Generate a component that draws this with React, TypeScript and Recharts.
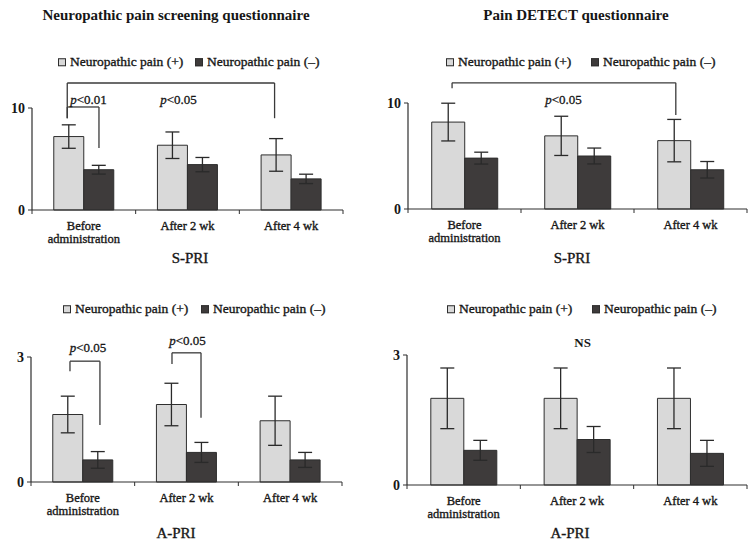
import React from 'react';
import { BarChart, Bar, XAxis, YAxis, ErrorBar, ReferenceLine, ReferenceDot } from 'recharts';

const FONT = "'Liberation Serif', 'DejaVu Serif', serif";
const LIGHT = '#d9d9d9';
const DARK = '#3e3b3b';
const STROKE = '#2e2e2e';
const INK = '#161616';

const categories = ['Before administration', 'After 2 wk', 'After 4 wk'];
const seriesNames = ['Neuropathic pain (+)', 'Neuropathic pain (\u2013)'];

// S-PRI, Neuropathic pain screening questionnaire
const npsqSpriPos = [7.2, 6.35, 5.4];
const npsqSpriPosErr = [1.15, 1.3, 1.6];
const npsqSpriNeg = [3.95, 4.45, 3.05];
const npsqSpriNegErr = [0.43, 0.7, 0.46];

// S-PRI, Pain DETECT questionnaire
const pdSpriPos = [8.2, 6.9, 6.45];
const pdSpriPosErr = [1.78, 1.85, 2.0];
const pdSpriNeg = [4.8, 5.0, 3.7];
const pdSpriNegErr = [0.56, 0.75, 0.78];

// A-PRI, Neuropathic pain screening questionnaire
const npsqApriPos = [1.62, 1.86, 1.47];
const npsqApriPosErr = [0.44, 0.51, 0.59];
const npsqApriNeg = [0.53, 0.71, 0.53];
const npsqApriNegErr = [0.2, 0.24, 0.18];

// A-PRI, Pain DETECT questionnaire
const pdApriPos = [2.0, 2.0, 2.0];
const pdApriPosErr = [0.7, 0.7, 0.7];
const pdApriNeg = [0.8, 1.05, 0.73];
const pdApriNegErr = [0.23, 0.3, 0.3];

const sTicks = [0, 10];
const aTicks = [0, 3];

// significance brackets: x in category units (0..3), y in data units
type Bracket = { x1: number; x2: number; yTop: number; yLeft: number; yRight: number };
type Ann = { x: number; y: number; text: string };

const npsqSpriBrackets: Bracket[] = [
  { x1: 0.34, x2: 2.34, yTop: 12.45, yLeft: 9.0, yRight: 9.0 },
  { x1: 0.34, x2: 0.646, yTop: 10.1, yLeft: 9.0, yRight: 6.08 },
];
const npsqSpriLabels: Ann[] = [
  { x: 0.545, y: 10.44, text: 'p<0.01' },
  { x: 1.413, y: 10.44, text: 'p<0.05' },
];
const pdSpriBrackets: Bracket[] = [{ x1: 0.39, x2: 2.37, yTop: 11.9, yLeft: 11.4, yRight: 8.87 }];
const pdSpriLabels: Ann[] = [{ x: 1.376, y: 9.86, text: 'p<0.05' }];
const npsqApriBrackets: Bracket[] = [
  { x1: 0.376, x2: 0.665, yTop: 2.9, yLeft: 2.66, yRight: 1.37 },
  { x1: 1.36, x2: 1.64, yTop: 3.1, yLeft: 2.83, yRight: 1.54 },
];
const npsqApriLabels: Ann[] = [
  { x: 0.55, y: 3.13, text: 'p<0.05' },
  { x: 1.51, y: 3.28, text: 'p<0.05' },
];
const pdApriBrackets: Bracket[] = [];
const pdApriLabels: Ann[] = [{ x: 1.55, y: 3.18, text: 'NS' }];

function CatTick(props: any) {
  const { x, y, payload, index } = props;
  const value = String(payload.value);
  const lines = value.length > 12 ? value.split(' ') : [value];
  const half = payload.offset || 0;
  const axisY = y - 4;
  return (
    <g>
      {half ? <line x1={x + half} x2={x + half} y1={axisY} y2={axisY + 4} stroke={STROKE} strokeWidth={1} /> : null}
      {half && index === 0 ? <line x1={x - half} x2={x - half} y1={axisY} y2={axisY + 4} stroke={STROKE} strokeWidth={1} /> : null}
      <text x={x} y={axisY + 20} textAnchor="middle" fontFamily={FONT} fontSize={12.5} fill={INK} stroke={INK} strokeWidth={0.35}>
        {lines.map((l, i) => (
          <tspan key={i} x={x} dy={i === 0 ? 0 : 13}>
            {l}
          </tspan>
        ))}
      </text>
    </g>
  );
}

function annShape(text: string) {
  return (props: any) => {
    const { cx, cy } = props;
    const isP = text.startsWith('p');
    return (
      <text
        x={cx}
        y={cy}
        textAnchor="middle"
        fontFamily={FONT}
        fontSize={13}
        fill={INK}
        stroke={INK}
        strokeWidth={isP ? 0.3 : 0}
        fontWeight={isP ? 'normal' : 'bold'}
      >
        {isP ? (
          <>
            <tspan fontStyle="italic">p</tspan>
            <tspan>{text.slice(1)}</tspan>
          </>
        ) : (
          text
        )}
      </text>
    );
  };
}

type PanelProps = {
  left: number;
  top: number;
  width: number;
  height: number;
  margin: { top: number; right: number; bottom: number; left: number };
  pos: number[];
  posErr: number[];
  neg: number[];
  negErr: number[];
  yMax: number;
  yTicks: number[];
  brackets: Bracket[];
  labels: Ann[];
};

function Panel(p: PanelProps) {
  const data = categories.map((c, i) => ({
    cat: c,
    i,
    pos: p.pos[i],
    posErr: p.posErr[i],
    neg: p.neg[i],
    negErr: p.negErr[i],
  }));
  const lineProps = { xAxisId: 'n', stroke: '#3a3a3a', strokeWidth: 1.3, ifOverflow: 'visible' as const };
  return (
    <div style={{ position: 'absolute', left: p.left, top: p.top }}>
      <BarChart width={p.width} height={p.height} data={data} margin={p.margin} barCategoryGap="21%" barGap={0}>
        <XAxis
          dataKey="cat"
          tickLine={false}
          axisLine={{ stroke: STROKE, strokeWidth: 1.2 }}
          height={45}
          interval={0}
          tickSize={4}
          tickMargin={0}
          tick={<CatTick />}
        />
        <XAxis xAxisId="n" dataKey="i" type="number" scale="linear" domain={[0, 3]} allowDataOverflow hide />
        <YAxis
          domain={[0, p.yMax]}
          ticks={p.yTicks}
          interval={0}
          width={30}
          tickSize={4}
          tickMargin={3}
          axisLine={{ stroke: STROKE, strokeWidth: 1.2 }}
          tickLine={{ stroke: STROKE }}
          tick={{ fontFamily: FONT, fontSize: 14, fontWeight: 'bold', fill: INK }}
        />
        <Bar dataKey="pos" fill={LIGHT} stroke={STROKE} strokeWidth={1} isAnimationActive={false}>
          <ErrorBar dataKey="posErr" width={7} stroke="#2a2a2a" strokeWidth={1.3} />
        </Bar>
        <Bar dataKey="neg" fill={DARK} stroke={STROKE} strokeWidth={1} isAnimationActive={false}>
          <ErrorBar dataKey="negErr" width={7} stroke="#2a2a2a" strokeWidth={1.3} />
        </Bar>
        {p.brackets.map((b, i) => (
          <ReferenceLine key={'l' + i} {...lineProps} segment={[{ x: b.x1, y: b.yLeft }, { x: b.x1, y: b.yTop }]} />
        ))}
        {p.brackets.map((b, i) => (
          <ReferenceLine key={'t' + i} {...lineProps} segment={[{ x: b.x1, y: b.yTop }, { x: b.x2, y: b.yTop }]} />
        ))}
        {p.brackets.map((b, i) => (
          <ReferenceLine key={'r' + i} {...lineProps} segment={[{ x: b.x2, y: b.yTop }, { x: b.x2, y: b.yRight }]} />
        ))}
        {p.labels.map((a, i) => (
          <ReferenceDot key={'a' + i} xAxisId="n" x={a.x} y={a.y} r={1} ifOverflow="visible" shape={annShape(a.text)} />
        ))}
      </BarChart>
    </div>
  );
}

function Text({ x, y, children, size, bold }: any) {
  return (
    <div
      style={{
        position: 'absolute',
        left: x,
        top: y,
        transform: 'translate(-50%, -50%)',
        whiteSpace: 'nowrap',
        fontFamily: FONT,
        fontSize: size,
        fontWeight: bold ? 'bold' : 'normal',
        color: INK,
        lineHeight: 1,
        WebkitTextStroke: bold ? undefined : '0.35px ' + INK,
      }}
    >
      {children}
    </div>
  );
}

function LegendItem({ x, y, color, label }: any) {
  return (
    <div
      style={{
        position: 'absolute',
        left: x,
        top: y,
        transform: 'translateY(-50%)',
        display: 'flex',
        alignItems: 'center',
        whiteSpace: 'nowrap',
        fontFamily: FONT,
        fontSize: 13.5,
        color: INK,
        lineHeight: 1,
        WebkitTextStroke: '0.35px ' + INK,
      }}
    >
      <span style={{ display: 'inline-block', width: 6, height: 6, background: color, border: `1px solid ${STROKE}`, marginRight: 4 }} />
      <span>{label}</span>
    </div>
  );
}

function Legend2({ x1, x2, y }: any) {
  return (
    <>
      <LegendItem x={x1} y={y} color={LIGHT} label={seriesNames[0]} />
      <LegendItem x={x2} y={y} color={DARK} label={seriesNames[1]} />
    </>
  );
}

export default function App() {
  return (
    <div style={{ position: 'absolute', left: 0, top: 0, width: 751, height: 543, background: '#fff', overflow: 'hidden' }}>
      <Text x={176} y={15} size={15} bold>
        Neuropathic pain screening questionnaire
      </Text>
      <Text x={576} y={15} size={15} bold>
        Pain DETECT questionnaire
      </Text>
      <Legend2 x1={58} x2={195} y={62} />
      <Legend2 x1={446} x2={591} y={62} />
      <Legend2 x1={63} x2={201} y={309} />
      <Legend2 x1={447} x2={592} y={309} />

      <Panel
        left={0}
        top={0}
        width={375}
        height={270}
        margin={{ top: 108, right: 32, bottom: 15, left: 2 }}
        pos={npsqSpriPos}
        posErr={npsqSpriPosErr}
        neg={npsqSpriNeg}
        negErr={npsqSpriNegErr}
        yMax={10}
        yTicks={sTicks}
        brackets={npsqSpriBrackets}
        labels={npsqSpriLabels}
      />
      <Panel
        left={375}
        top={0}
        width={376}
        height={270}
        margin={{ top: 103, right: 4, bottom: 16, left: 3 }}
        pos={pdSpriPos}
        posErr={pdSpriPosErr}
        neg={pdSpriNeg}
        negErr={pdSpriNegErr}
        yMax={10}
        yTicks={sTicks}
        brackets={pdSpriBrackets}
        labels={pdSpriLabels}
      />
      <Panel
        left={0}
        top={270}
        width={375}
        height={273}
        margin={{ top: 87, right: 33, bottom: 16, left: 1 }}
        pos={npsqApriPos}
        posErr={npsqApriPosErr}
        neg={npsqApriNeg}
        negErr={npsqApriNegErr}
        yMax={3}
        yTicks={aTicks}
        brackets={npsqApriBrackets}
        labels={npsqApriLabels}
      />
      <Panel
        left={375}
        top={270}
        width={376}
        height={273}
        margin={{ top: 85, right: 4, bottom: 13, left: 2 }}
        pos={pdApriPos}
        posErr={pdApriPosErr}
        neg={pdApriNeg}
        negErr={pdApriNegErr}
        yMax={3}
        yTicks={aTicks}
        brackets={pdApriBrackets}
        labels={pdApriLabels}
      />

      <Text x={190} y={258} size={15}>
        S-PRI
      </Text>
      <Text x={572} y={258} size={15}>
        S-PRI
      </Text>
      <Text x={176} y={533} size={15}>
        A-PRI
      </Text>
      <Text x={570} y={533} size={15}>
        A-PRI
      </Text>
    </div>
  );
}
